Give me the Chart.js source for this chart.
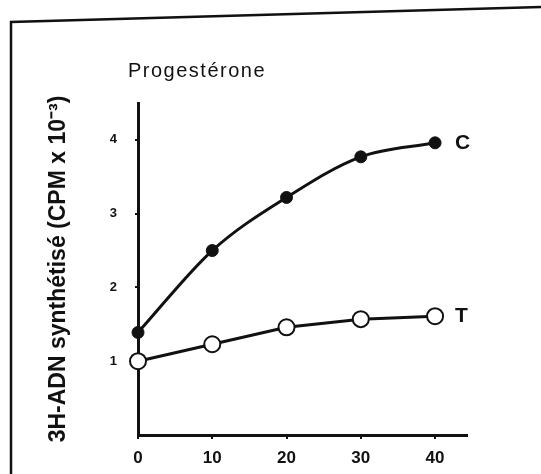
<!DOCTYPE html>
<html>
<head>
<meta charset="utf-8">
<script src="https://cdn.jsdelivr.net/npm/chart.js@4"></script>
<style>
  html, body { margin: 0; padding: 0; background: #fff; }
</style>
</head>
<body>
<canvas id="myChart" width="541" height="474"></canvas>
<script>
// data
const doses = [0, 10, 20, 30, 40];
const controlC = [1.39, 2.50, 3.22, 3.77, 3.96];
const treatedT = [1.0, 1.23, 1.46, 1.57, 1.61];
const xTicks = [0, 10, 20, 30, 40];
const yTicks = [1, 2, 3, 4];
const seriesNames = ["C", "T"];

const font = "'Liberation Sans', Arial, sans-serif";

// frame, panel title and the C / T end labels
const extras = {
  id: 'extras',
  afterDraw(chart) {
    const ctx = chart.ctx;
    const area = chart.chartArea;
    ctx.save();
    ctx.strokeStyle = '#111';
    ctx.lineWidth = 2.5;
    ctx.beginPath();
    ctx.moveTo(11, 474);
    ctx.lineTo(11, 22);
    ctx.lineTo(541, 7);
    ctx.stroke();

    ctx.fillStyle = '#111';
    ctx.font = '20px ' + font;
    ctx.letterSpacing = '1.5px';
    ctx.textBaseline = 'middle';
    ctx.fillText('Progestérone', area.left - 10, area.top - 32);
    ctx.letterSpacing = '0px';

    ctx.font = 'bold 21px ' + font;
    chart.data.datasets.forEach((ds, i) => {
      const meta = chart.getDatasetMeta(i);
      const last = meta.data[meta.data.length - 1];
      ctx.fillText(seriesNames[i], last.x + 20, last.y);
    });
    ctx.restore();
  }
};

new Chart(document.getElementById("myChart"), {
  type: 'line',
  data: {
    datasets: [
      {
        label: seriesNames[0],
        data: doses.map((d, i) => ({x: d, y: controlC[i]})),
        borderColor: '#111',
        borderWidth: 3,
        cubicInterpolationMode: 'monotone',
        pointRadius: 6,
        pointBackgroundColor: '#111',
        pointBorderColor: '#111',
        pointBorderWidth: 1,
        clip: false,
        order: 2
      },
      {
        label: seriesNames[1],
        data: doses.map((d, i) => ({x: d, y: treatedT[i]})),
        borderColor: '#111',
        borderWidth: 3,
        tension: 0,
        pointRadius: 8,
        pointBackgroundColor: '#fff',
        pointBorderColor: '#111',
        pointBorderWidth: 2,
        clip: false,
        order: 1
      }
    ]
  },
  options: {
    responsive: false,
    animation: false,
    layout: { padding: { left: 0, top: 103, right: 74, bottom: 0 } },
    plugins: {
      legend: { display: false },
      title: { display: false },
      tooltip: { enabled: false }
    },
    scales: {
      x: {
        type: 'linear',
        min: 0,
        max: 44.3,
        afterBuildTicks: s => { s.ticks = xTicks.map(v => ({value: v})); },
        afterFit: s => { s.height = 39; },
        border: { color: '#111', width: 3 },
        grid: { drawOnChartArea: false, color: '#111', lineWidth: 2, tickLength: 4 },
        ticks: { color: '#111', padding: 9, font: { family: font, size: 17, weight: 'bold' } }
      },
      y: {
        min: 0,
        max: 4.5,
        afterBuildTicks: s => { s.ticks = yTicks.map(v => ({value: v})); },
        afterFit: s => { s.width = 138; },
        border: { color: '#111', width: 3 },
        grid: { drawOnChartArea: false, color: '#111', lineWidth: 2, tickLength: 3 },
        ticks: { color: '#111', padding: 18, font: { family: font, size: 13, weight: 'bold' } },
        title: {
          display: true,
          text: '3H-ADN synthétisé (CPM x 10⁻³)',
          color: '#111',
          padding: { top: 45, bottom: 0 },
          font: { family: font, size: 23, weight: 'bold' }
        }
      }
    }
  },
  plugins: [extras]
});
</script>
</body>
</html>
